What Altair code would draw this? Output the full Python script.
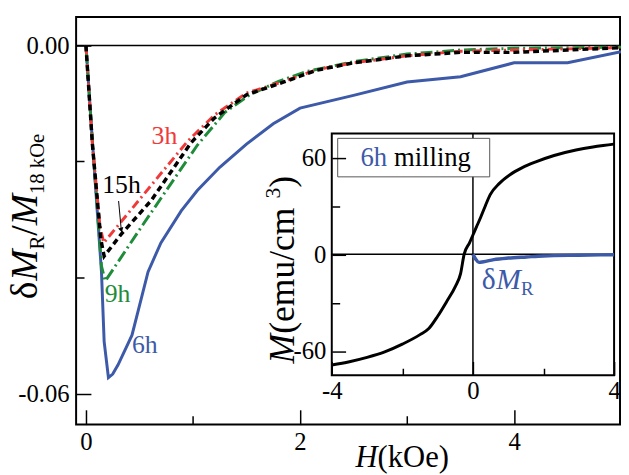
import altair as alt
import pandas as pd

# ---------------- data ----------------
H_6h = [0, 0.06, 0.145, 0.17, 0.21, 0.25, 0.30, 0.43, 0.58, 0.70, 0.89, 1.04, 1.25, 1.50, 1.75, 2.0, 2.5, 3.0, 3.5, 4.0, 4.5, 5.0]
dM_6h = [0, -0.0165, -0.039, -0.051, -0.0572, -0.0566, -0.055, -0.0499, -0.039, -0.034, -0.0285, -0.025, -0.021, -0.017, -0.0135, -0.0108, -0.0086, -0.0063, -0.0054, -0.003, -0.003, -0.0011]

H_9h = [0, 0.06, 0.145, 0.18, 0.52, 0.75, 1.04, 1.3, 1.53, 1.8, 2.06, 2.5, 3.0, 3.5, 4.0, 4.5, 5.0]
dM_9h = [0, -0.0165, -0.038, -0.0406, -0.0312, -0.025, -0.0172, -0.0115, -0.0085, -0.0062, -0.0045, -0.0028, -0.0015, -0.0008, -0.0005, -0.0004, -0.0003]

H_3h = [0, 0.06, 0.13, 0.166, 0.95, 1.2, 1.5, 1.85, 2.15, 2.5, 3.0, 3.5, 4.0, 4.5, 5.0]
dM_3h = [0, -0.017, -0.031, -0.034, -0.0165, -0.012, -0.0082, -0.0062, -0.0042, -0.003, -0.0018, -0.001, -0.0008, -0.0006, -0.0004]

H_15h = [0, 0.06, 0.14, 0.17, 0.33, 0.61, 0.98, 1.2, 1.5, 1.85, 2.15, 2.5, 3.0, 3.5, 4.0, 4.5, 5.0]
dM_15h = [0, -0.017, -0.0335, -0.0363, -0.0325, -0.0267, -0.0168, -0.0125, -0.0085, -0.0063, -0.0043, -0.003, -0.0018, -0.0012, -0.0012, -0.0008, -0.0004]

# curve labels (H, dM)
lab_text = ["3h", "15h", "9h", "6h"]
lab_H = [0.733, 0.332, 0.295, 0.55]
lab_dM = [-0.0156, -0.0241, -0.0428, -0.0516]

# arrow of the 15h label
arrow_H = [0.305, 0.33]
arrow_dM = [-0.0268, -0.0318]

# inset: magnetization loop branch (kOe, emu/cm^3)
H_M = [-4, -3.5, -3, -2.5, -2, -1.5, -1.25, -1, -0.75, -0.5, -0.35, -0.25, -0.1, 0, 0.1, 0.22, 0.35, 0.49, 0.75, 1.05, 1.4, 1.8, 2.3, 2.92, 3.4, 3.94, 4]
M_val = [-68.6, -66.6, -63.9, -60.5, -55.7, -49.8, -46, -38.4, -29.5, -20, -12, 0, 7, 12, 17, 23, 30, 37, 44, 49.4, 53.8, 57.5, 61.3, 64.7, 66.6, 68.2, 68.4]

# inset: delta M_R of 6h sample
H_dMR = [0, 0.08, 0.17, 0.3, 0.59, 1.0, 1.52, 2.0, 3.0, 4.0]
dMR_val = [0, -3, -5, -4.6, -3.3, -2.3, -1.6, -1.0, -0.55, -0.2]

main_x_ticks = [0, 1, 2, 3, 4]
main_y_ticks = [0, -0.02, -0.04, -0.06]
ins_x_ticks = [-4, -2, 0, 2, 4]
ins_y_ticks = [-60, -30, 0, 30, 60]

# ---------------- style / layout ----------------
FONT = "Liberation Serif"
BLUE = "#3d5aa9"
RED = "#f03a3a"
GREEN = "#1e8c3a"
W, Hh = 551, 413
T = 15        # main tick length
TI = 14       # inset tick length
INS_X = [259, 545]   # inset pixel range (plot coords)
INS_Y = [363, 118]

def axis(orient, values, offset, tick, minor_test, label_expr, pad, minor_len):
    gap = tick - minor_len
    return alt.Axis(
        orient=orient, values=values, offset=offset, tickSize=tick, domain=False,
        grid=False, title=None, labelFont=FONT, labelFontSize=25, labelColor="black",
        labelPadding=pad, labelExpr=label_expr, labelFlush=False, labelOverlap=False,
        tickColor="black", tickWidth=1.5, zindex=1,
        tickDash={"condition": {"test": minor_test, "value": [0, gap, minor_len, 0]}, "value": [30, 0]},
    )

mx_axis = axis("bottom", main_x_ticks, -T, T, "datum.value % 2 != 0",
               "datum.value % 2 == 0 ? format(datum.value, 'd') : ''", 5, 9)
my_axis = axis("left", main_y_ticks, -T, T, "datum.value != 0 && datum.value > -0.05",
               "(datum.value == 0 || datum.value < -0.05) ? (datum.value < 0 ? '-' : '') + format(abs(datum.value), '.2f') : ''", 7, 8)
ix_axis = axis("bottom", ins_x_ticks, -(Hh - INS_Y[0]) - TI, TI, "abs(datum.value) == 2",
               "abs(datum.value) != 2 ? (datum.value < 0 ? '-' : '') + format(abs(datum.value), 'd') : ''", 4, 7)
iy_axis = axis("left", ins_y_ticks, -INS_X[0] - TI, TI, "abs(datum.value) == 30",
               "abs(datum.value) != 30 ? (datum.value < 0 ? '-' : '') + format(abs(datum.value), 'd') : ''", 6, 8)

mX = alt.X("H:Q", scale=alt.Scale(domain=[-0.092, 4.99], nice=False, zero=False), axis=mx_axis)
mY = alt.Y("dM:Q", scale=alt.Scale(domain=[-0.0653, 0.0049], nice=False, zero=False), axis=my_axis)
iX = alt.X("h:Q", scale=alt.Scale(domain=[-4, 4], range=INS_X, nice=False, zero=False), axis=ix_axis)
iY = alt.Y("m:Q", scale=alt.Scale(domain=[-75, 75], range=INS_Y, nice=False, zero=False), axis=iy_axis)

def df(x, y, xn="H", yn="dM"):
    return pd.DataFrame({xn: x, yn: y})

zero_main = alt.Chart(df([0], [0])).mark_rule(color="black", strokeWidth=1.5).encode(y=mY)

def curve(x, y, color, dash, width):
    kw = dict(color=color, strokeWidth=width, strokeCap="butt")
    if dash:
        kw["strokeDash"] = dash
    return alt.Chart(df(x, y)).mark_line(**kw).encode(x=mX, y=mY)

c6 = curve(H_6h, dM_6h, BLUE, None, 3)
c9 = curve(H_9h, dM_9h, GREEN, [12, 4, 2, 4], 3)
c3 = curve(H_3h, dM_3h, RED, [9, 4, 2, 4], 3)
c15 = curve(H_15h, dM_15h, "black", [6, 4], 3.5)

lab_df = pd.DataFrame({"H": lab_H, "dM": lab_dM, "t": lab_text})
labels = alt.Chart(lab_df).mark_text(font=FONT, fontSize=26, baseline="middle", align="center").encode(
    x=mX, y=mY, text="t:N",
    color=alt.Color("t:N", scale=alt.Scale(domain=lab_text, range=[RED, "black", GREEN, BLUE]), legend=None),
)
arrow_line = alt.Chart(df(arrow_H, arrow_dM)).mark_line(color="black", strokeWidth=1).encode(x=mX, y=mY)
arrow_head = alt.Chart(df(arrow_H[1:], arrow_dM[1:])).mark_point(
    shape="triangle-down", filled=True, color="black", size=30, angle=345, opacity=1).encode(x=mX, y=mY)

main = alt.layer(zero_main, c6, c9, c3, c15, labels, arrow_line, arrow_head)

# inset
frame_df = pd.DataFrame({"h": [-4], "h2": [4], "m": [-75], "m2": [75]})
ins_frame = alt.Chart(frame_df).mark_rect(fill="white", stroke="black", strokeWidth=2).encode(
    x=iX, x2="h2:Q", y=iY, y2="m2:Q")
vzero = alt.Chart(pd.DataFrame({"h": [0], "m": [-75], "m2": [75]})).mark_rule(color="black", strokeWidth=1.5).encode(
    x=iX, y=iY, y2="m2:Q")
hzero = alt.Chart(pd.DataFrame({"h": [-4], "h2": [4], "m": [0]})).mark_rule(color="black", strokeWidth=1.5).encode(
    x=iX, x2="h2:Q", y=iY)
loop = alt.Chart(df(H_M, M_val, "h", "m")).mark_line(color="black", strokeWidth=3, interpolate="monotone").encode(x=iX, y=iY)
dmr = alt.Chart(df(H_dMR, dMR_val, "h", "m")).mark_line(color=BLUE, strokeWidth=3.5, interpolate="monotone").encode(x=iX, y=iY)
inset = alt.layer(ins_frame, vzero, hzero, loop, dmr)

# ---------------- text pieces (titles with italics / subscripts) ----------------
def txt(s, x, y, size, color="black", italic=False, angle=0, align="left", baseline="alphabetic"):
    return alt.Chart(alt.Data(values=[{}])).mark_text(
        text=s, font=FONT, fontSize=size, fontStyle="italic" if italic else "normal",
        color=color, angle=angle, align=align, baseline=baseline,
    ).encode(x=alt.value(x), y=alt.value(y))

CW = {"δ": 0.49, "M": 0.833, "H": 0.722, "R": 0.667, "/": 0.278, " ": 0.25, "(": 0.333, ")": 0.333,
      "e": 0.444, "m": 0.778, "u": 0.5, "c": 0.444, "k": 0.5, "O": 0.722, "1": 0.5, "8": 0.5, "3": 0.5}

def width(s, size):
    return sum(CW.get(ch, 0.5) for ch in s) * size

pieces = []
# main y title, rotated, reading upward
F, f = 38, 21
bx, y0 = -40, 286
for s, size, ital, dx in [("δ", F, False, 0), ("M", F, True, 0), ("R", f, False, 7),
                          ("/", F, False, 0), ("M", F, True, 0), ("18 kOe", f, False, 7)]:
    pieces.append(txt(s, bx + dx, y0, size, italic=ital, angle=270))
    y0 -= width(s, size)

# inset y title
F2, f2 = 36, 22
bx, y0 = 221, 351
for s, size, ital, dx in [("M", F2, True, 0), (" (emu/cm", F2, False, 0), ("3", f2, False, -14), (")", F2, False, 0)]:
    pieces.append(txt(s, bx + dx, y0, size, italic=ital, angle=270))
    y0 -= width(s, size)

# x title
x0 = 283
for s, ital in [("H", True), (" (kOe)", False)]:
    pieces.append(txt(s, x0, 456, 31, italic=ital))
    x0 += width(s, 31)

# inset delta M_R label
x0 = 411
for s, size, ital, dy in [("δ", 30, False, 0), ("M", 30, True, 0), ("R", 19, False, 6)]:
    pieces.append(txt(s, x0, 276 + dy, size, color=BLUE, italic=ital))
    x0 += width(s, size)

# legend box "6h milling"
box = alt.Chart(alt.Data(values=[{}])).mark_rect(fill="white", stroke="#555555", strokeWidth=1).encode(
    x=alt.value(265), x2=alt.value(419), y=alt.value(123), y2=alt.value(162))
pieces.append(box)
pieces.append(txt("6h", 288, 151, 27, color=BLUE))
pieces.append(txt("milling", 322, 151, 27))

chart = alt.layer(main, inset, *pieces).resolve_scale(x="independent", y="independent").properties(
    width=W, height=Hh,
    autosize=alt.AutoSizeParams(type="none"),
    padding={"left": 69, "top": 6, "right": 1, "bottom": 48},
).configure_view(stroke="black", strokeWidth=2)

chart.save("out.html", embed_options={"renderer": "svg", "actions": False})
